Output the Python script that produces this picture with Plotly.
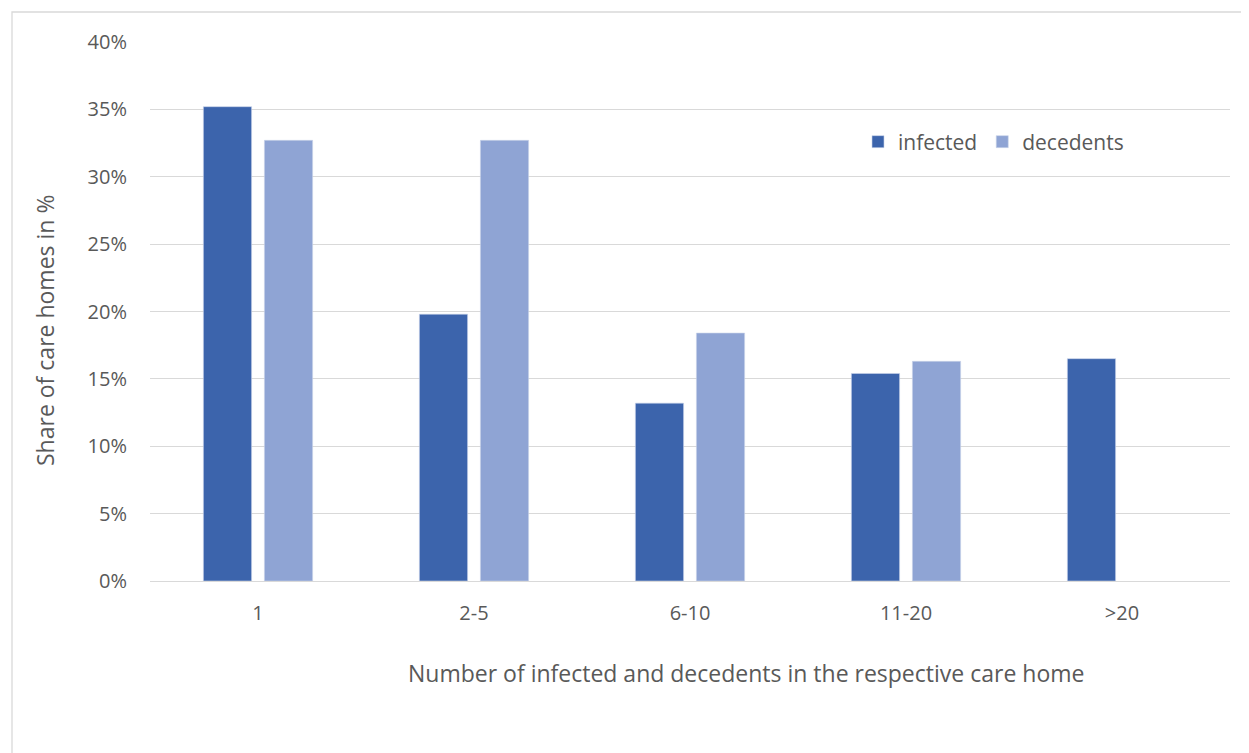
import plotly.graph_objects as go

categories = ["1", "2-5", "6-10", "11-20", ">20"]
infected = [35.2, 19.8, 13.2, 15.4, 16.5]
decedents = [32.7, 32.7, 18.4, 16.3, 0]
tick_vals = [0, 5, 10, 15, 20, 25, 30, 35, 40]
tick_text = ["0%", "5%", "10%", "15%", "20%", "25%", "30%", "35%", "40%"]
x_title = "Number of infected and decedents in the respective care home"
y_title = "Share of care homes in %"

FONT = "Open Sans"
TXT = "#595959"
GRID = "#d9d9d9"
EDGE = "#c9d3ea"

fig = go.Figure()
fig.add_trace(go.Bar(x=categories, y=infected, name="infected",
                     marker=dict(color="#3c64ac",
                                 line=dict(color=EDGE, width=[0.6 if v else 0 for v in infected]))))
fig.add_trace(go.Bar(x=categories, y=decedents, name="decedents",
                     marker=dict(color="#8fa4d4",
                                 line=dict(color=EDGE, width=[0.6 if v else 0 for v in decedents]))))

OFF = 8  # page body margin
W, H = 1249 - OFF, 753 - OFF
PL, PR, PT, PB = 150, 1230, 42, 581  # target plot area in screenshot px
L, T = PL - OFF, PT - OFF
R = W - (PR - OFF)
B = H - (PB - OFF)
pw, ph = W - L - R, H - T - B

def px(x):
    return (x - PL) / pw

def py(y):
    return (PB - y) / ph

fig.update_layout(
    width=W, height=H,
    margin=dict(l=L, r=R, t=T, b=B, autoexpand=False),
    paper_bgcolor="white", plot_bgcolor="white",
    barmode="group", bargap=0.435, bargroupgap=0.21,
    font=dict(family=FONT, color=TXT, size=20),
    showlegend=True,
    legend=dict(orientation="h", x=px(858), y=py(142), xanchor="left", yanchor="middle",
                font=dict(size=21, color=TXT), bgcolor="rgba(0,0,0,0)",
                itemwidth=30, traceorder="normal"),
    xaxis=dict(showgrid=False, showline=False, ticks="", tickfont=dict(size=20, color=TXT),
               ticklabelstandoff=18),
    yaxis=dict(range=[0, 40], tickvals=tick_vals, ticktext=tick_text,
               showgrid=True, gridcolor=GRID, gridwidth=1.3,
               zeroline=True, zerolinecolor=GRID, zerolinewidth=1.3,
               showline=False, ticks="", tickfont=dict(size=20, color=TXT), ticklabelstandoff=22),
)

fig.add_annotation(text=x_title, xref="paper", yref="paper", x=px(746), y=py(673),
                   xanchor="center", yanchor="middle", showarrow=False,
                   font=dict(size=23, color=TXT))
fig.add_annotation(text=y_title, xref="paper", yref="paper", x=px(45), y=py(331),
                   xanchor="center", yanchor="middle", showarrow=False, textangle=-90,
                   font=dict(size=23, color=TXT))

fig.add_shape(type="rect", xref="paper", yref="paper",
              x0=px(12), x1=px(1248), y0=py(770), y1=py(12),
              line=dict(color=GRID, width=1.3), fillcolor="rgba(0,0,0,0)", layer="below")

fig.write_html("out.html")
